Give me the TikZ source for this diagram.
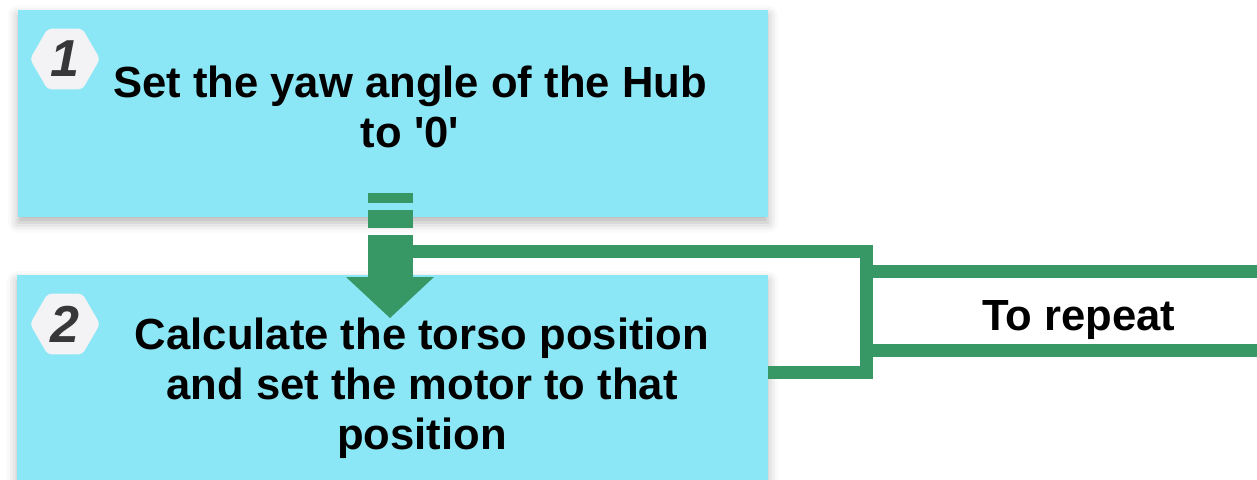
\documentclass[tikz,border=0pt]{standalone}
\usepackage{fontspec}
\setmainfont{Liberation Sans}
\usetikzlibrary{arrows.meta,positioning,shapes.geometric,shadows.blur}
\definecolor{stepcyan}{RGB}{139,231,245}
\definecolor{loopgreen}{RGB}{55,151,101}
\definecolor{badgegray}{RGB}{243,243,245}
\definecolor{numgray}{RGB}{55,55,58}

\begin{document}
\begin{tikzpicture}[x=0.5pt,y=-0.5pt,
  stepbox/.style={fill=stepcyan,inner sep=0pt,
    blur shadow={shadow xshift=0pt,shadow yshift=-3pt,shadow blur radius=5pt,shadow opacity=30}},
  steptext/.style={font=\bfseries\fontsize{21.8}{25}\selectfont,align=center,inner sep=0pt},
  badge/.style={regular polygon,regular polygon sides=6,minimum size=35pt,inner sep=0pt,
    fill=badgegray,rounded corners=2pt,text=numgray,font=\bfseries\itshape\fontsize{26}{26}\selectfont},
  loopline/.style={draw=loopgreen,line width=6.5pt}]
 \useasboundingbox (0,0) rectangle (1257,479);

 % the two steps
 \node[stepbox,minimum width=375pt,minimum height=103.5pt] (step1) at (393,113) {};
 \node[stepbox,minimum width=375.5pt,minimum height=112.5pt] (step2) at (392.5,387.5) {};
 \node[steptext] (label1) at (410,106.5) {Set the yaw angle of the Hub\\to \textquotesingle0\textquotesingle};
 \node[steptext] (label2) at (422,388.5) {Calculate the torso position\\and set the motor to that\\position};
 \node[badge] (num1) at (65,59) {1};
 \node[badge] (num2) at (65,324) {2};

 % repeat loop
 \coordinate (tail) at (390,193);
 \coordinate (tip) at (390,318);
 \coordinate (corner) at (866,251);
 \draw[loopline] (step2.east |- 0,372) -| (corner) -- (tail |- corner);
 \draw[loopline] (corner |- 0,271) -- (1280,271);
 \draw[loopline] (corner |- 0,350) -- (1280,350);
 \node[steptext,anchor=base] (repeat) at (1079,330) {To repeat};

 % flow arrow
 \draw[draw=loopgreen,line width=22.5pt,dash pattern=on 5pt off 3.5pt on 9pt off 3.5pt on 200pt,
   -{Triangle[width=44pt,length=20.5pt,line width=0pt]}] (tail) -- (tip);
\end{tikzpicture}
\end{document}
